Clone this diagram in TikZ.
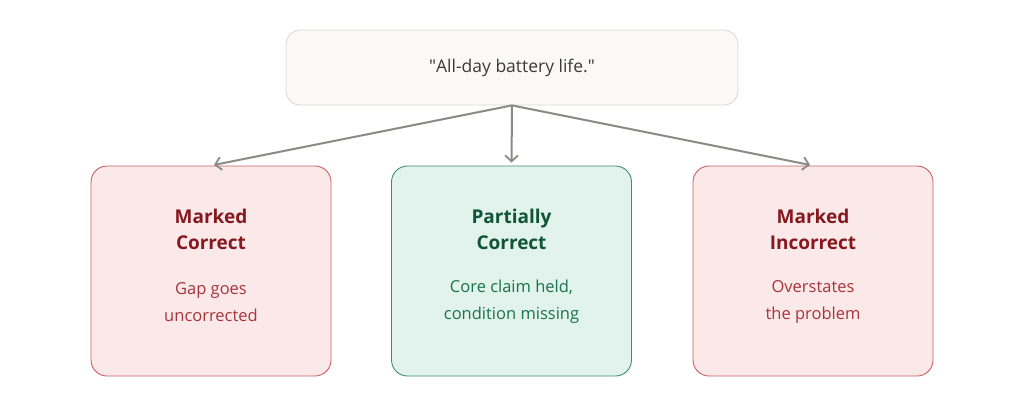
\documentclass[tikz,border=0pt]{standalone}
\usepackage{fontspec}
\setmainfont{Open Sans}
\usepackage{xcolor}
\usetikzlibrary{arrows.meta}
\definecolor{claimfill}{HTML}{FAF9F7}
\definecolor{claimline}{HTML}{D9D7D3}
\definecolor{claimtext}{HTML}{3A3A3A}
\definecolor{arrowgray}{HTML}{8A8A86}
\definecolor{redfill}{HTML}{FBE9E9}
\definecolor{redline}{HTML}{CC5E63}
\definecolor{redtitle}{HTML}{85191F}
\definecolor{redbody}{HTML}{A8343A}
\definecolor{greenfill}{HTML}{E1F3EC}
\definecolor{greenline}{HTML}{3E8F6F}
\definecolor{greentitle}{HTML}{10553A}
\definecolor{greenbody}{HTML}{1A724F}
\tikzset{
  claimbox/.style={draw=claimline, fill=claimfill, line width=0.8pt, rounded corners=14pt,
    minimum width=452pt, minimum height=75pt, text=claimtext, font=\fontsize{17.5}{21}\selectfont},
  verdict/.style={line width=0.9pt, rounded corners=16pt, minimum width=240pt, minimum height=210pt},
  redbox/.style={verdict, draw=redline, fill=redfill},
  greenbox/.style={verdict, draw=greenline, fill=greenfill},
  ttl/.style={align=center, font=\bfseries\fontsize{19}{26}\selectfont},
  bdy/.style={align=center, font=\fontsize{16.5}{27}\selectfont},
  link/.style={draw=arrowgray, line width=2pt, shorten >=3pt,
    -{Straight Barb[length=6pt,width=13pt,line width=1.8pt]}},
}
\begin{document}
\begin{tikzpicture}[x=1pt,y=-1pt]
  \useasboundingbox (0,0) rectangle (1024,407);
  \node[claimbox] (claim) at (512,67.5) {\textquotedbl All-day battery life.\textquotedbl};
  \node[redbox] (markedcorrect) at (211,271) {};
  \node[greenbox] (partial) at (511.5,271) {};
  \node[redbox] (markedincorrect) at (813,271) {};
  % verdict texts
  \node[ttl, text=redtitle] (mctitle) at (211,229) {Marked\\Correct};
  \node[bdy, text=redbody] (mcbody) at (211,302) {Gap goes\\uncorrected};
  \node[ttl, text=greentitle] (pctitle) at (511.5,229) {Partially\\Correct};
  \node[bdy, text=greenbody] (pcbody) at (511.5,302) {Core claim held,\\condition missing};
  \node[ttl, text=redtitle] (mititle) at (813,229) {Marked\\Incorrect};
  \node[bdy, text=redbody] (mibody) at (813,302) {Overstates\\the problem};
  % arrows
  \draw[link] (claim.south) -- (markedcorrect.north);
  \draw[link] (claim.south) -- (partial.north);
  \draw[link] (claim.south) -- (markedincorrect.north);
\end{tikzpicture}
\end{document}
